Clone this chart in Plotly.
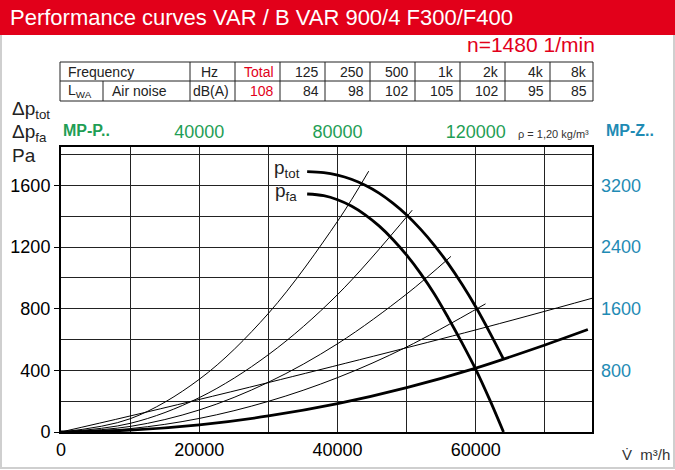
import plotly.graph_objects as go

# ---------------- data ----------------
# fan curves (flow m3/h, pressure Pa)
ptot_x = [35600, 38000, 40000, 42000, 44000, 46000, 48000, 50000, 52000, 54000, 56000, 58000, 60000, 62000, 64000]
ptot_y = [1690, 1684, 1668, 1641, 1602, 1551, 1486, 1409, 1317, 1212, 1093, 959, 811, 647, 473]
pfa_x = [35600, 38000, 40000, 42000, 44000, 46000, 48000, 50000, 52000, 54000, 56000, 58000, 60000, 62000, 64000]
pfa_y = [1545, 1534, 1508, 1467, 1410, 1338, 1250, 1148, 1030, 896, 742, 578, 405, 210, 0]

# thick system curve
sys_x = [0, 10000, 20000, 30000, 40000, 50000, 60000, 70000, 76200]
sys_y = [0, 12, 46, 104, 184, 288, 415, 565, 665]

# thin system / efficiency lines
l1_x = [0, 10000, 20000, 30000, 40000, 44500]
l1_y = [0, 86, 342, 770, 1368, 1693]
l2_x = [0, 10000, 20000, 30000, 40000, 50800]
l2_y = [0, 56, 223, 502, 892, 1440]
l3_x = [0, 10000, 20000, 30000, 40000, 50000, 56400]
l3_y = [0, 36, 143, 323, 573, 896, 1140]
l4_x = [0, 10000, 20000, 30000, 40000, 50000, 61400]
l4_y = [0, 22, 88, 199, 353, 552, 832]
l5_x = [0, 10000, 30000, 60000, 76800]
l5_y = [0, 104, 321, 663, 868]

bottom_ticks = [0, 20000, 40000, 60000]
left_ticks = [0, 400, 800, 1200, 1600]
top_ticks = [40000, 80000, 120000]
right_ticks = [800, 1600, 2400, 3200]

freq_labels = ["Total", "125", "250", "500", "1k", "2k", "4k", "8k"]
noise_values = ["108", "84", "98", "102", "105", "102", "95", "85"]

title = "Performance curves VAR / B VAR 900/4 F300/F400"
speed = "n=1480 1/min"

# ---------------- styling ----------------
RED = "#e2001a"
GREEN = "#1f9e55"
BLUE = "#1f8bb4"
FONT = "Liberation Sans, Arial, Helvetica, sans-serif"
NARROW = "Liberation Sans Narrow, Arial Narrow, Liberation Sans, sans-serif"

L, R, T, B = 61, 592, 147, 432
W, H = 675, 470


def px(x):
    return (x - L) / (R - L)


def py(y):
    return (B - y) / (B - T)


fig = go.Figure()

thin = dict(color="black", width=1)
for xs, ys in [(l1_x, l1_y), (l2_x, l2_y), (l3_x, l3_y), (l4_x, l4_y), (l5_x, l5_y)]:
    fig.add_trace(go.Scatter(x=xs, y=ys, mode="lines", line=dict(thin, shape="spline"),
                             hoverinfo="skip"))

thick = dict(color="black", width=2.8, shape="spline")
fig.add_trace(go.Scatter(x=sys_x, y=sys_y, mode="lines", line=thick, hoverinfo="skip"))
fig.add_trace(go.Scatter(x=ptot_x, y=ptot_y, mode="lines", line=thick, hoverinfo="skip"))
fig.add_trace(go.Scatter(x=pfa_x, y=pfa_y, mode="lines", line=thick, hoverinfo="skip"))

# dummy traces to activate secondary axes
fig.add_trace(go.Scatter(x=[0], y=[0], xaxis="x2", yaxis="y", mode="markers",
                         marker=dict(opacity=0), hoverinfo="skip"))
fig.add_trace(go.Scatter(x=[0], y=[0], xaxis="x", yaxis="y2", mode="markers",
                         marker=dict(opacity=0), hoverinfo="skip"))

GRID = "#222222"
fig.update_layout(
    width=W, height=H,
    margin=dict(l=L, r=W - R, t=T, b=H - B, pad=0),
    paper_bgcolor="white", plot_bgcolor="white", showlegend=False,
    xaxis=dict(range=[0, 76800], tickvals=bottom_ticks, ticktext=[str(v) for v in bottom_ticks],
               showgrid=True, gridcolor=GRID, gridwidth=1, automargin=False,
               minor=dict(dtick=10000, tick0=0, showgrid=True, gridcolor=GRID, gridwidth=1),
               showline=True, linecolor="black", linewidth=2, mirror=True,
               ticks="", zeroline=False,
               tickfont=dict(family=FONT, size=18, color="black")),
    yaxis=dict(range=[0, 1850], tickvals=left_ticks, ticktext=[str(v) for v in left_ticks],
               showgrid=True, gridcolor=GRID, gridwidth=1, automargin=False,
               minor=dict(dtick=200, tick0=0, showgrid=True, gridcolor=GRID, gridwidth=1),
               showline=True, linecolor="black", linewidth=2, mirror=True,
               ticks="outside", ticklen=5, tickcolor="black", zeroline=False,
               tickfont=dict(family=FONT, size=18, color="black")),
    xaxis2=dict(overlaying="x", side="top", anchor="y", range=[0, 153600], automargin=False,
                tickvals=top_ticks, ticktext=[str(v) for v in top_ticks],
                showgrid=False, zeroline=False, showline=False, ticks="",
                ticklabelstandoff=4,
                tickfont=dict(family=FONT, size=18, color=GREEN)),
    yaxis2=dict(overlaying="y", side="right", anchor="x", range=[0, 3700], automargin=False,
                tickvals=right_ticks, ticktext=[str(v) for v in right_ticks],
                showgrid=False, zeroline=False, showline=False, ticks="",
                ticklabelstandoff=8,
                tickfont=dict(family=FONT, size=18, color=BLUE)),
)

shapes = []
anns = []

# outer light border
shapes.append(dict(type="rect", xref="paper", yref="paper", x0=px(1), x1=px(674), y0=py(468), y1=py(30),
                   line=dict(color="#cfcfcf", width=2), fillcolor="rgba(0,0,0,0)", layer="below"))
# red header bar
shapes.append(dict(type="rect", xref="paper", yref="paper", x0=px(0), x1=px(675), y0=py(35), y1=py(0),
                   line=dict(width=0), fillcolor=RED, layer="below"))
anns.append(dict(text=title, x=px(8), y=py(18), xref="paper", yref="paper", xanchor="left",
                 yanchor="middle", showarrow=False, font=dict(family=FONT, size=22, color="white")))
anns.append(dict(text=speed, x=px(597), y=py(44), xref="paper", yref="paper", xanchor="right",
                 yanchor="middle", showarrow=False, font=dict(family=FONT, size=21, color=RED)))

# table
tl, tr, tt, tm, tb = 60, 593, 62, 81, 101
col_edges = [190, 235, 280, 325, 370, 415, 460, 505, 550, 593]
tline = dict(color="#222222", width=1)
shapes.append(dict(type="rect", xref="paper", yref="paper", x0=px(tl), x1=px(tr), y0=py(tb), y1=py(tt),
                   line=tline))
shapes.append(dict(type="line", xref="paper", yref="paper", x0=px(tl), x1=px(tr), y0=py(tm), y1=py(tm),
                   line=tline))
for cx in col_edges[:-1]:
    shapes.append(dict(type="line", xref="paper", yref="paper", x0=px(cx), x1=px(cx), y0=py(tb), y1=py(tt),
                       line=tline))
shapes.append(dict(type="line", xref="paper", yref="paper", x0=px(103), x1=px(103), y0=py(tb), y1=py(tm),
                   line=tline))

tfont = dict(family=NARROW, size=14, color="#222222")
r1, r2 = (tt + tm) / 2, (tm + tb) / 2
anns.append(dict(text="Frequency", x=px(66), y=py(r1), xref="paper", yref="paper", xanchor="left",
                 yanchor="middle", showarrow=False, font=tfont))
anns.append(dict(text="L<sub>WA</sub>", x=px(66), y=py(r2), xref="paper", yref="paper", xanchor="left",
                 yanchor="middle", showarrow=False, font=tfont))
anns.append(dict(text="Air noise", x=px(110), y=py(r2), xref="paper", yref="paper", xanchor="left",
                 yanchor="middle", showarrow=False, font=tfont))
anns.append(dict(text="Hz", x=px(220), y=py(r1), xref="paper", yref="paper", xanchor="right",
                 yanchor="middle", showarrow=False, font=tfont))
anns.append(dict(text="dB(A)", x=px(231), y=py(r2), xref="paper", yref="paper", xanchor="right",
                 yanchor="middle", showarrow=False, font=tfont))
for i, (lab, val) in enumerate(zip(freq_labels, noise_values)):
    right = col_edges[i + 2] - 4
    f = dict(tfont, color=RED) if i == 0 else tfont
    anns.append(dict(text=lab, x=px(right), y=py(r1), xref="paper", yref="paper", xanchor="right",
                     yanchor="middle", showarrow=False, font=f))
    anns.append(dict(text=val, x=px(right), y=py(r2), xref="paper", yref="paper", xanchor="right",
                     yanchor="middle", showarrow=False, font=f))

# axis titles
lab_font = dict(family=FONT, size=19, color="#222222")
anns.append(dict(text="Δp<sub>tot</sub>", x=px(10), y=py(110), xref="paper", yref="paper",
                 xanchor="left", yanchor="middle", showarrow=False, font=lab_font))
anns.append(dict(text="Δp<sub>fa</sub>", x=px(10), y=py(133), xref="paper", yref="paper",
                 xanchor="left", yanchor="middle", showarrow=False, font=lab_font))
anns.append(dict(text="Pa", x=px(10), y=py(155), xref="paper", yref="paper",
                 xanchor="left", yanchor="middle", showarrow=False, font=lab_font))
anns.append(dict(text="<b>MP-P..</b>", x=px(61), y=py(130), xref="paper", yref="paper",
                 xanchor="left", yanchor="middle", showarrow=False,
                 font=dict(family=FONT, size=16, color=GREEN)))
anns.append(dict(text="<b>MP-Z..</b>", x=px(604), y=py(130), xref="paper", yref="paper",
                 xanchor="left", yanchor="middle", showarrow=False,
                 font=dict(family=FONT, size=16, color=BLUE)))
anns.append(dict(text="ρ = 1,20 kg/m³", x=px(591), y=py(134), xref="paper", yref="paper",
                 xanchor="right", yanchor="middle", showarrow=False,
                 font=dict(family=FONT, size=11, color="#333333")))
anns.append(dict(text="V\u0307  m³/h", x=px(672), y=py(454), xref="paper", yref="paper",
                 xanchor="right", yanchor="middle", showarrow=False,
                 font=dict(family=FONT, size=15, color="#333333")))

# curve labels
anns.append(dict(text="p<sub>tot</sub>", x=px(302), y=py(169), xref="paper", yref="paper",
                 xanchor="right", yanchor="middle", showarrow=False, font=lab_font))
anns.append(dict(text="p<sub>fa</sub>", x=px(299), y=py(192), xref="paper", yref="paper",
                 xanchor="right", yanchor="middle", showarrow=False, font=lab_font))

fig.update_layout(shapes=shapes, annotations=anns)
fig.write_html("out.html", config={"displayModeBar": False},
               post_script="document.body.style.margin='0px';")
